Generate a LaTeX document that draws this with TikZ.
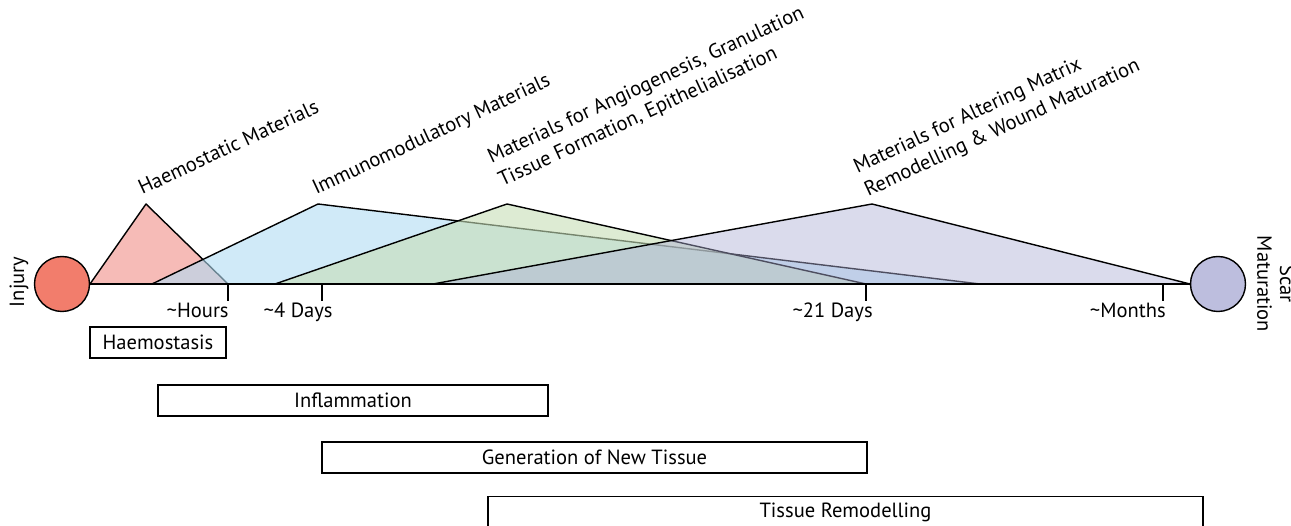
\documentclass[tikz,border=0pt]{standalone}
\usepackage{fontspec}
\setmainfont{PT Sans}
\usetikzlibrary{positioning}
\definecolor{injuryred}{RGB}{242,125,108}
\definecolor{scarblue}{RGB}{189,190,222}
\definecolor{haemopink}{RGB}{240,142,135}
\definecolor{immunoblue}{RGB}{177,220,243}
\definecolor{angiogreen}{RGB}{198,222,182}
\definecolor{remodpurple}{RGB}{173,175,213}

\begin{document}
\begin{tikzpicture}[x=0.02cm,y=0.02cm,
    every node/.style={font=\fontsize{11.7}{14.5}\selectfont},
    stage/.style={draw,circle,line width=0.8pt,minimum size=1.1cm,inner sep=0pt},
    phase/.style={draw,line width=0.8pt,minimum height=0.62cm,inner sep=0pt},
    material/.style={rotate=25,anchor=base west,align=left,inner sep=0pt},
    timelabel/.style={anchor=base east,inner sep=0pt},
    wave/.style={draw,line width=0.8pt,line join=round,fill opacity=0.6}]
	\useasboundingbox (0,0) rectangle (1291,526);

	% material windows
	\draw[wave,fill=haemopink] (90,242) -- (146,322) -- (228,242) -- cycle;
	\draw[wave,fill=immunoblue] (152,242) -- (318,322) -- (980,242) -- cycle;
	\draw[wave,fill=angiogreen] (275,242) -- (507,322) -- (866,242) -- cycle;
	\draw[wave,fill=remodpurple,fill opacity=0.45] (433,242) -- (872,322) -- (1190,242) -- cycle;

	% injury and scar
	\node[stage,fill=injuryred] (injury) at (62,242) {};
	\node[stage,fill=scarblue] (scar) at (1218,242) {};
	\node[rotate=90] (injurylbl) at (19,244) {Injury};
	\node[rotate=-90,align=center,font=\fontsize{11.7}{13}\selectfont] (scarlbl) at (1276,242) {Scar\\Maturation};

	% time line
	\draw[line width=0.8pt] (injury) -- (scar);
	\foreach \t in {228,322,866,1163}
		\draw[line width=0.8pt] (\t,242) -- (\t,225);
	\node[timelabel] (hours) at (229,208) {\textasciitilde Hours};
	\node[timelabel] (fourdays) at (333,208) {\textasciitilde 4 Days};
	\node[timelabel] (weeks) at (873,208) {\textasciitilde 21 Days};
	\node[timelabel] (months) at (1166,208) {\textasciitilde Months};

	% materials
	\node[material] (haemomat) at (142,331) {Haemostatic Materials};
	\node[material] (immunomat) at (316,331) {Immunomodulatory Materials};
	\node[material] (angiomat) at (502,339) {Materials for Angiogenesis, Granulation\\Tissue Formation, Epithelialisation};
	\node[material] (remodmat) at (868,329) {Materials for Altering Matrix\\Remodelling \& Wound Maturation};

	% phases
	\node[phase,minimum width=2.72cm] (haemostasis) at (158,183.5) {Haemostasis};
	\node[phase,minimum width=7.8cm] (inflammation) at (353,125.5) {Inflammation};
	\node[phase,minimum width=10.9cm] (newtissue) at (594.5,68.5) {Generation of New Tissue};
	\node[phase,minimum width=14.3cm] (remodelling) at (845.5,14) {Tissue Remodelling};
\end{tikzpicture}
\end{document}
